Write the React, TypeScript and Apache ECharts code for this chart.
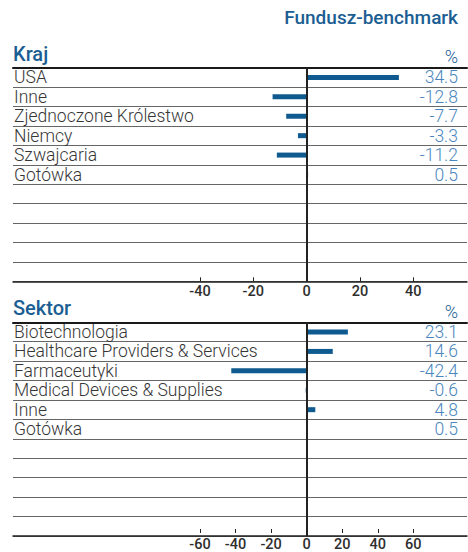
import React, { useEffect, useRef } from "react";
import * as echarts from "echarts";

const countryCategories = ["USA", "Inne", "Zjednoczone Królestwo", "Niemcy", "Szwajcaria", "Gotówka", "", "", "", "", ""];
const countryValues = [34.5, -12.8, -7.7, -3.3, -11.2, 0.5];
const sectorCategories = ["Biotechnologia", "Healthcare Providers & Services", "Farmaceutyki", "Medical Devices & Supplies", "Inne", "Gotówka", "", "", "", "", ""];
const sectorValues = [23.1, 14.6, -42.4, -0.6, 4.8, 0.5];
const countryAxisRange = [-110, 60];
const countryTickRange = [-40, 40];
const sectorAxisRange = [-165, 90];
const sectorTickRange = [-60, 60];
const tickStep = 20;

const FONT = "Roboto";
const BAR = "#0f5a8f";
const TITLE = "#1b5e93";
const VALUE = "#4a86bd";
const TEXT = "#363636";

function valueLabels(cats: string[], vals: number[]) {
  return cats.map((_, i) => (i < vals.length ? vals[i].toFixed(1) : ""));
}

export default function App() {
  const ref = useRef<HTMLDivElement>(null);
  useEffect(() => {
    if (!ref.current) return;
    const chart = echarts.init(ref.current, undefined, { renderer: "svg" });
    const L = 13, R = 1;
    const g1Top = 67.7, g2Top = 322.3, gH = 213.6;
    const tickLeft = 200, tickW = 213.3;

    const mainX = (grid: number, range: number[]) => [
      {
        gridIndex: grid, type: "value", position: "bottom", min: range[0], max: range[1],
        axisLine: { show: true, lineStyle: { color: "#222", width: 1.5 } },
        axisTick: { show: false }, axisLabel: { show: false }, splitLine: { show: false },
      },
      {
        gridIndex: grid, type: "value", position: "top", min: range[0], max: range[1],
        axisLine: { show: true, lineStyle: { color: "#1a1a1a", width: 2 } },
        axisTick: { show: false }, axisLabel: { show: false }, splitLine: { show: false },
      },
    ];
    const tickX = (grid: number, range: number[], margin: number) => ({
      gridIndex: grid, type: "value", position: "bottom", min: range[0], max: range[1], interval: tickStep,
      axisLine: { show: false },
      axisTick: { show: true, inside: true, length: 4, lineStyle: { color: "#222", width: 1 } },
      axisLabel: { show: true, margin, color: "#2e2e2e", fontFamily: FONT, fontSize: 14.5, fontWeight: 500 },
      splitLine: { show: false },
    });
    const labelY = (grid: number, cats: string[]) => ({
      gridIndex: grid, type: "category", inverse: true, position: "left", data: cats,
      axisLine: { show: false }, axisTick: { show: false },
      axisLabel: { inside: true, interval: 0, margin: 1, color: TEXT, fontFamily: FONT, fontSize: 17.5, fontWeight: 300 },
      splitLine: { show: true, interval: 0, lineStyle: { color: "#666", width: 1 } },
    });
    const valueY = (grid: number, cats: string[], vals: number[]) => ({
      gridIndex: grid, type: "category", inverse: true, position: "right", data: valueLabels(cats, vals),
      axisLine: { show: false }, axisTick: { show: false },
      axisLabel: { inside: true, interval: 0, margin: 9, color: VALUE, fontFamily: FONT, fontSize: 17.5, fontWeight: 300 },
      splitLine: { show: false },
    });
    const hiddenY = (grid: number) => ({
      gridIndex: grid, type: "value", show: false, min: 0, max: 1,
    });
    const barSeries = (xi: number, yi: number, vals: number[]) => ({
      type: "bar", xAxisIndex: xi, yAxisIndex: yi, data: vals, barWidth: 5,
      itemStyle: { color: BAR },
      markLine: {
        silent: true, symbol: "none", label: { show: false },
        lineStyle: { color: "#222", width: 2, type: "solid" },
        data: [{ xAxis: 0 }],
      },
    });
    const t = (text: string, pos: any, size: number, weight: any, color = TITLE) => ({
      text, padding: 0, ...pos,
      textStyle: { fontFamily: FONT, fontSize: size, fontWeight: weight, color },
    });

    chart.setOption({
      animation: false,
      title: [
        t("Fundusz-benchmark", { right: 10, top: 8 }, 19, 500),
        t("Kraj", { left: 13, top: 44 }, 20, 500),
        t("%", { right: 10, top: 47 }, 18, 300),
        t("Sektor", { left: 13, top: 298 }, 20, 500),
        t("%", { right: 10, top: 302 }, 18, 300),
      ],
      grid: [
        { left: L, right: R, top: g1Top, height: gH },
        { left: tickLeft, width: tickW, top: g1Top + gH - 10, height: 10 },
        { left: L, right: R, top: g2Top, height: gH },
        { left: tickLeft, width: tickW, top: g2Top + gH - 10, height: 10 },
      ],
      xAxis: [
        ...mainX(0, countryAxisRange),
        tickX(1, countryTickRange, 3),
        ...mainX(2, sectorAxisRange),
        tickX(3, sectorTickRange, 4),
      ],
      yAxis: [
        labelY(0, countryCategories),
        valueY(0, countryCategories, countryValues),
        hiddenY(1),
        labelY(2, sectorCategories),
        valueY(2, sectorCategories, sectorValues),
        hiddenY(3),
      ],
      series: [
        barSeries(0, 0, countryValues),
        barSeries(3, 3, sectorValues),
      ],
    });
    return () => chart.dispose();
  }, []);
  return (
    <div
      ref={ref}
      style={{ position: "absolute", left: 0, top: 0, width: 468, height: 552, background: "#fff" }}
    />
  );
}
